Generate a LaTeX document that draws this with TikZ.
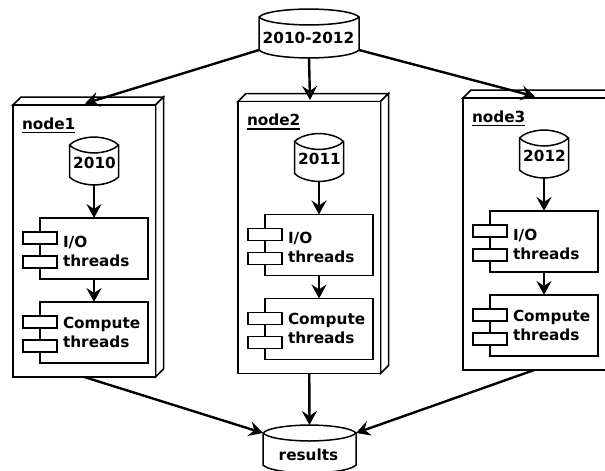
\documentclass[tikz,border=0pt]{standalone}
\usepackage{fontspec}
\setmainfont{DejaVu Sans}
\usetikzlibrary{arrows.meta}

% database cylinder: #1 name, #2 centre x, #3 top corner y, #4 bottom corner y, #5 half width
\newcommand\dbcyl[5]{%
  \draw[outline, fill=white]
    (#2-#5,#3) .. controls (#2-#5+8,#3-8) and (#2,#3-8) .. (#2,#3-8)
    .. controls (#2,#3-8) and (#2+#5-8,#3-8) .. (#2+#5,#3)
    -- (#2+#5,#4)
    .. controls (#2+#5-8,#4+8) and (#2,#4+8) .. (#2,#4+8)
    .. controls (#2,#4+8) and (#2-#5+8,#4+8) .. (#2-#5,#4) -- cycle;
  \draw[outline]
    (#2-#5,#3) .. controls (#2-#5+8,#3+8) and (#2,#3+8) .. (#2,#3+8)
    .. controls (#2,#3+8) and (#2+#5-8,#3+8) .. (#2+#5,#3);
  \coordinate (#1-n) at (#2,#3-8);
  \coordinate (#1-s) at (#2,#4+8);
  \coordinate (#1-w) at (#2-#5,#4);
  \coordinate (#1-e) at (#2+#5,#4);
  \coordinate (#1-nw) at (#2-#5,#3);
  \coordinate (#1-ne) at (#2+#5,#3);
}

% UML component box with two tabs: #1 name, #2 top y, #3 first line, #4 second line, #5 first baseline
\newcommand\compbox[5]{%
  \node[compface, anchor=north west] (#1) at (40,#2) {};
  \draw[outline, fill=white] (23,#2+14) rectangle (57,#2+26);
  \draw[outline, fill=white] (23,#2+38) rectangle (57,#2+50);
  \node[lbl] (#1-a) at (63,#5) {#3};
  \node[lbl] (#1-b) at (63,#5+19) {#4};
}

% deployment node: #1 name, #2 label, #3 year, #4 dx, #5 dy
\newcommand\deploynode[5]{%
  \begin{scope}[shift={(#4,#5)}]
    \draw[outline, fill=white] (13,105) -- (21,97) -- (163.5,97) -- (155.5,105) -- cycle;
    \draw[outline, fill=white] (155.5,105) -- (163.5,97) -- (163.5,369) -- (155.5,377) -- cycle;
    \node[frontface, anchor=north west] (#1) at (13,105) {};
    \coordinate (#1-in) at (85,103.5);
    \node[lbl] (#1-name) at (22,129) {#2};
    \draw[line width=1.2pt] ([yshift=-3.5pt]#1-name.base west) -- ([yshift=-3.5pt]#1-name.base east);
    \dbcyl{#1-db}{94}{145}{177}{24.5}
    \node[anchor=base] (#1-year) at (94.5,168) {#3};
    \compbox{#1-io}{218}{I/O}{threads}{247}
    \compbox{#1-cmp}{302}{Compute}{threads}{328}
    \draw[link] (#1-db-s) -- (#1-io);
    \draw[link] (#1-io) -- (#1-cmp);
  \end{scope}
}

\begin{document}
\begin{tikzpicture}[x=1pt, y=-1pt,
  every node/.style={font=\fontsize{15.3}{19}\selectfont\bfseries, inner sep=0pt, outer sep=0pt},
  outline/.style={line width=1.5pt, line join=miter},
  frontface/.style={draw, outline, fill=white, minimum width=142.5pt, minimum height=272pt},
  compface/.style={draw, outline, fill=white, minimum width=108pt, minimum height=61pt},
  lbl/.style={anchor=base west},
  link/.style={line width=2.4pt, -{Stealth[length=14pt, width=15pt, inset=5pt]}},
]
\useasboundingbox (0,0) rectangle (605,471);
\clip (0,0) rectangle (605,471);

% source data set
\dbcyl{src}{309}{17}{50}{50}
\node[anchor=base] (src-t) at (308.5,43) {2010-2012};

% worker nodes
\deploynode{n1}{node1}{2010}{0}{0}
\deploynode{n2}{node2}{2011}{225}{-3.5}
\deploynode{n3}{node3}{2012}{450}{-7}

% collected output
\dbcyl{res}{309.5}{433}{465}{46.5}
\node[anchor=base] (res-t) at (308.5,460) {results};

% distribution and collection
\draw[link] (src-w) -- (n1-in);
\draw[link] (src-s) -- (n2-in);
\draw[link] (src-e) -- (n3-in);
\draw[link] (n1.south) -- (res-nw);
\draw[link] (n2.south) -- (res-n);
\draw[link] (n3.south) -- (res-ne);
\end{tikzpicture}
\end{document}
